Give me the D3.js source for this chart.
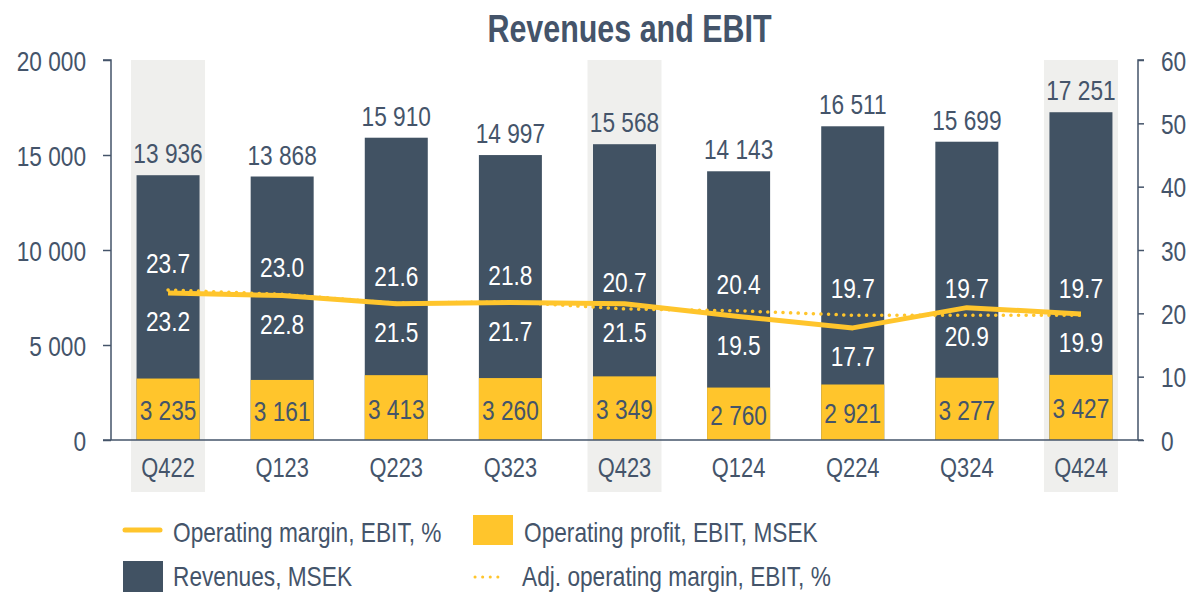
<!DOCTYPE html>
<html><head><meta charset="utf-8">
<script src="https://cdn.jsdelivr.net/npm/d3@7"></script>
<style>
body{margin:0;background:#fff;}
text{font-family:"Liberation Sans Narrow","Arial Narrow","Liberation Sans",Arial,sans-serif;}
</style></head>
<body><svg id="c" width="1192" height="592"></svg>
<script>
const categories = ["Q422","Q123","Q223","Q323","Q423","Q124","Q224","Q324","Q424"];
const revenues = [13936,13868,15910,14997,15568,14143,16511,15699,17251];
const operatingProfit = [3235,3161,3413,3260,3349,2760,2921,3277,3427];
const operatingMargin = [23.2,22.8,21.5,21.7,21.5,19.5,17.7,20.9,19.9];
const adjOperatingMargin = [23.7,23.0,21.6,21.8,20.7,20.4,19.7,19.7,19.7];
const highlighted = ["Q422","Q423","Q424"];
const leftTicks = [0,5000,10000,15000,20000];
const rightTicks = [0,10,20,30,40,50,60];
const title = "Revenues and EBIT";

const DARK = "#415263", YEL = "#ffc52c", TXT = "#44546a", HL = "#efefed";
const FS = 28;
const svg = d3.select("#c");
const L = 111, R = 1138, T = 60, B = 440;

const xo = d3.scaleBand().domain(categories).range([L, R]);
const y = d3.scaleLinear().domain([0, 20000]).range([B, T]);
const y2 = d3.scaleLinear().domain([0, 60]).range([B, T]);
const fmt = v => d3.format(",")(v).replace(/,/g, " ");
const cx = c => xo(c) + xo.bandwidth() / 2;

// highlight backgrounds
const hw = 74;
svg.selectAll("rect.hl").data(highlighted).join("rect")
  .attr("x", d => cx(d) - hw / 2).attr("y", T).attr("width", hw).attr("height", 492 - T)
  .attr("fill", HL);

// title
svg.append("text").attr("class", "title").attr("x", 629.5).attr("y", 42).attr("text-anchor", "middle")
  .attr("font-size", 39).attr("font-weight", "bold").attr("fill", TXT).text(title);

const bw = 63;
svg.selectAll("rect.rev").data(categories).join("rect")
  .attr("x", c => cx(c) - bw / 2).attr("width", bw)
  .attr("y", (c, i) => y(revenues[i])).attr("height", (c, i) => B - y(revenues[i]))
  .attr("fill", DARK);
svg.selectAll("rect.op").data(categories).join("rect")
  .attr("x", c => cx(c) - bw / 2).attr("width", bw)
  .attr("y", (c, i) => y(operatingProfit[i])).attr("height", (c, i) => B - y(operatingProfit[i]))
  .attr("fill", YEL);

// axes
const axL = svg.append("g").attr("transform", `translate(${L},0)`)
  .call(d3.axisLeft(y).tickValues(leftTicks).tickFormat(fmt).tickSize(8).tickPadding(17));
const axR = svg.append("g").attr("transform", `translate(${R},0)`)
  .call(d3.axisRight(y2).tickValues(rightTicks).tickSize(6).tickPadding(17));
[axL, axR].forEach(a => {
  a.select(".domain").attr("stroke", TXT).attr("stroke-width", 1.5);
  a.selectAll(".tick line").attr("stroke", TXT).attr("stroke-width", 1.5);
  a.selectAll(".tick text").attr("fill", TXT).attr("font-size", FS)
    .attr("font-family", null).attr("dy", "0.36em");
});
axL.select(".domain").attr("d", `M-8,${T}H0V${B}`);
axR.select(".domain").attr("d", `M6,${T}H0V${B}`);
svg.append("line").attr("x1", L - 8).attr("x2", R + 5).attr("y1", B).attr("y2", B)
  .attr("stroke", TXT).attr("stroke-width", 1.5);

// x labels
svg.selectAll("text.xl").data(categories).join("text")
  .attr("x", cx).attr("y", 477).attr("text-anchor", "middle")
  .attr("font-size", 27).attr("fill", TXT).text(d => d);

// revenue labels
svg.selectAll("text.rv").data(categories).join("text")
  .attr("x", cx).attr("y", (c, i) => y(revenues[i]) - 12).attr("text-anchor", "middle")
  .attr("font-size", FS).attr("fill", TXT).text((c, i) => fmt(revenues[i]));
// profit labels
svg.selectAll("text.pl").data(categories).join("text")
  .attr("x", cx).attr("y", (c, i) => (y(operatingProfit[i]) + B) / 2 + 11).attr("text-anchor", "middle")
  .attr("font-size", FS).attr("fill", TXT).text((c, i) => fmt(operatingProfit[i]));

// lines
const line = arr => d3.line().x((d, i) => cx(categories[i])).y(d => y2(d))(arr);
svg.append("path").attr("d", line(adjOperatingMargin)).attr("fill", "none")
  .attr("stroke", YEL).attr("stroke-width", 3.5).attr("stroke-dasharray", "0.1 7.5").attr("stroke-linecap", "round");
svg.append("path").attr("d", line(operatingMargin)).attr("fill", "none")
  .attr("stroke", YEL).attr("stroke-width", 5).attr("stroke-linejoin", "round");

// margin labels
svg.selectAll("text.am").data(categories).join("text")
  .attr("x", cx).attr("y", (c, i) => y2(adjOperatingMargin[i]) - 17).attr("text-anchor", "middle")
  .attr("font-size", FS).attr("fill", "#fff").text((c, i) => adjOperatingMargin[i].toFixed(1));
svg.selectAll("text.om").data(categories).join("text")
  .attr("x", cx).attr("y", (c, i) => y2(operatingMargin[i]) + 38).attr("text-anchor", "middle")
  .attr("font-size", FS).attr("fill", "#fff").text((c, i) => operatingMargin[i].toFixed(1));

// legend
const lg = svg.append("g");
lg.append("line").attr("x1", 125).attr("x2", 160).attr("y1", 530).attr("y2", 530)
  .attr("stroke", YEL).attr("stroke-width", 5).attr("stroke-linecap", "round");
lg.append("text").attr("x", 173).attr("y", 542).attr("font-size", FS).attr("fill", TXT).text("Operating margin, EBIT, %");
lg.append("rect").attr("x", 473).attr("y", 515).attr("width", 40).attr("height", 30).attr("fill", YEL);
lg.append("text").attr("x", 524).attr("y", 542).attr("font-size", FS).attr("fill", TXT).text("Operating profit, EBIT, MSEK");
lg.append("rect").attr("x", 123).attr("y", 561).attr("width", 40).attr("height", 31).attr("fill", DARK);
lg.append("text").attr("x", 173).attr("y", 586).attr("font-size", FS).attr("fill", TXT).text("Revenues, MSEK");
lg.append("line").attr("x1", 475).attr("x2", 505).attr("y1", 577).attr("y2", 577)
  .attr("stroke", YEL).attr("stroke-width", 3).attr("stroke-dasharray", "0.1 7.5").attr("stroke-linecap", "round");
lg.append("text").attr("x", 522).attr("y", 586).attr("font-size", FS).attr("fill", TXT).text("Adj. operating margin, EBIT, %");

// condense text (narrow font look)
svg.selectAll("text").each(function () {
  const k = this.classList.contains("title") ? 0.78 : 0.81;
  const len = this.getComputedTextLength();
  this.setAttribute("textLength", (len * k).toFixed(2));
  this.setAttribute("lengthAdjust", "spacingAndGlyphs");
});
</script></body></html>
